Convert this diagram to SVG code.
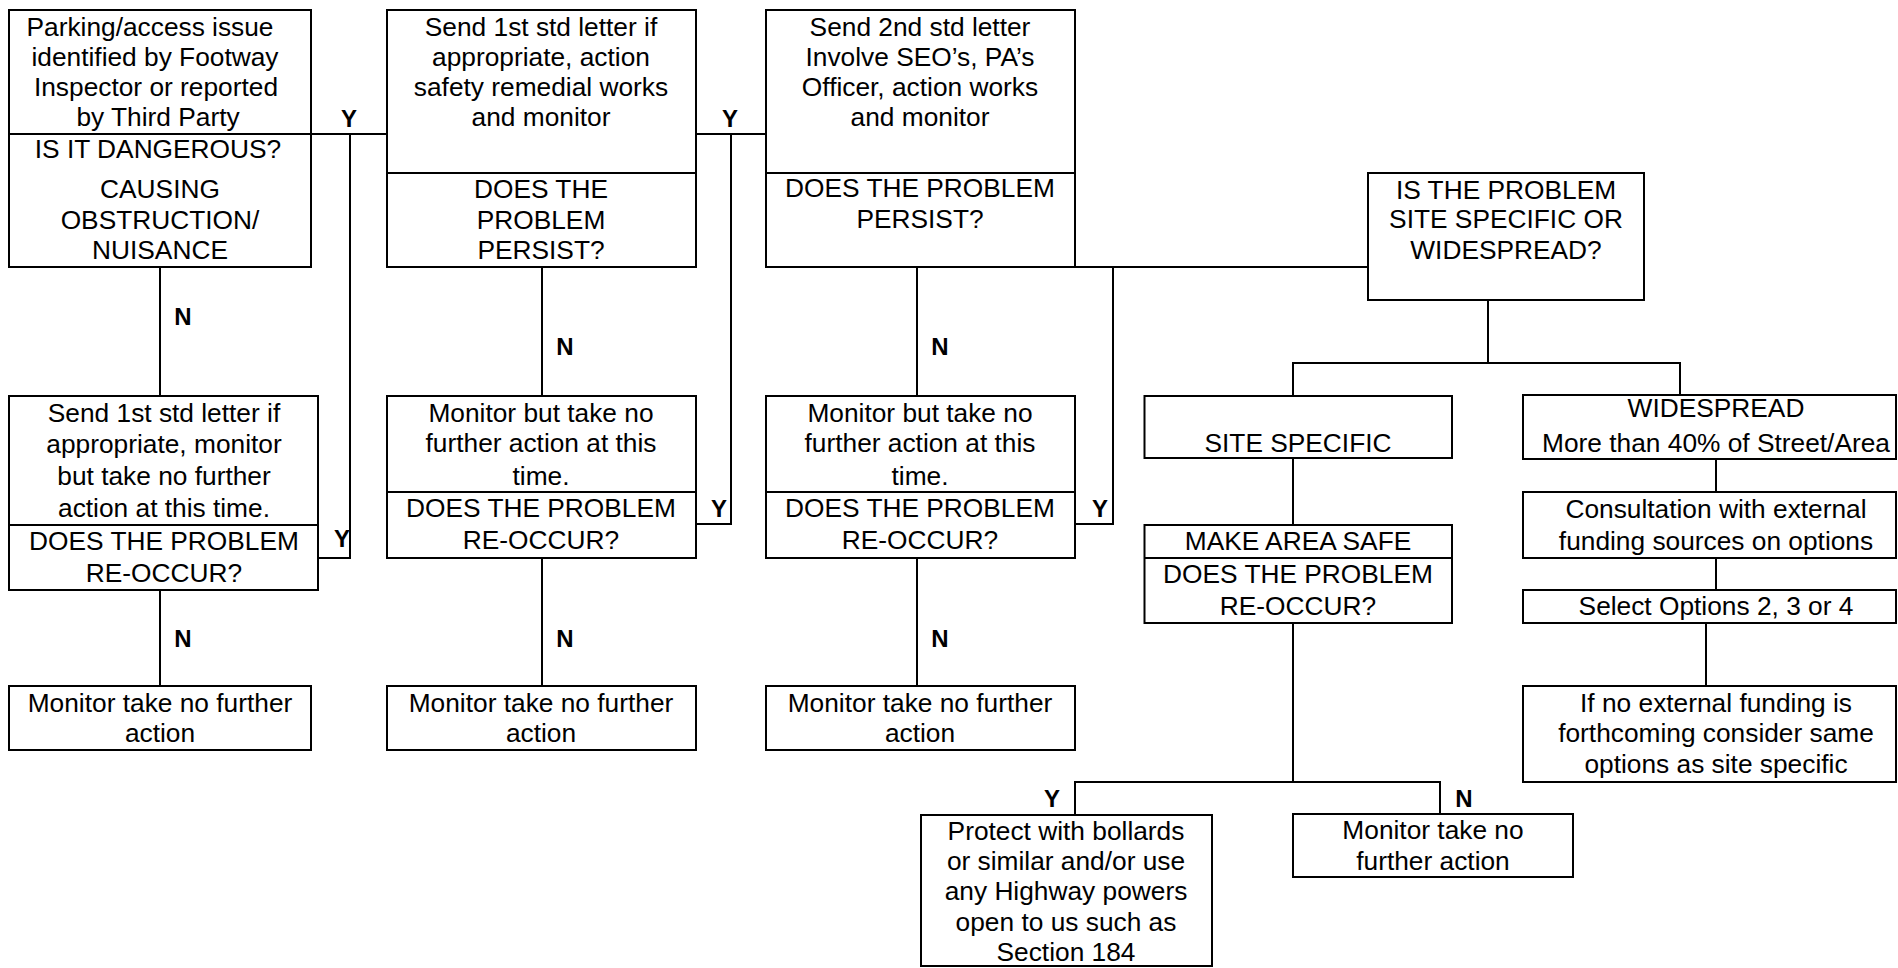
<svg xmlns="http://www.w3.org/2000/svg" width="1898" height="968" viewBox="0 0 1898 968">
  <style>
    .box { fill: #fff; stroke: #000; stroke-width: 2; }
    .div { stroke: #000; stroke-width: 2; }
    .wire { fill: none; stroke: #000; stroke-width: 2; }
    text { font-family: "Liberation Sans", Arial, Helvetica, sans-serif; fill: #000; }
    .t { font-size: 26.3px; text-anchor: middle; }
    .yn { font-size: 24px; font-weight: bold; text-anchor: middle; }
  </style>
  <rect width="1898" height="968" fill="#fff"/>

  <!-- connectors -->
  <g id="connectors" class="wire">
    <!-- column 1 -->
    <path d="M311,134 H387"/>
    <path d="M350,134 V558 H318"/>
    <path d="M160,267 V396"/>
    <path d="M160,590 V686"/>
    <!-- column 2 -->
    <path d="M696,134 H766"/>
    <path d="M731,134 V524 H696"/>
    <path d="M542,267 V396"/>
    <path d="M542,558 V686"/>
    <!-- column 3 -->
    <path d="M1075,267 H1368"/>
    <path d="M1113,267 V524 H1075"/>
    <path d="M917,267 V396"/>
    <path d="M917,558 V686"/>
    <!-- site specific / widespread split -->
    <path d="M1488,300 V363"/>
    <path d="M1293,396 V363 H1680 V395"/>
    <path d="M1293,458 V525"/>
    <path d="M1293,623 V782"/>
    <path d="M1075,815 V782 H1440 V814"/>
    <!-- widespread chain -->
    <path d="M1716,459 V492"/>
    <path d="M1716,558 V590"/>
    <path d="M1706,623 V686"/>
  </g>

  <!-- Y / N labels -->
  <g id="labels">
    <text class="yn" x="349" y="127">Y</text>
    <text class="yn" x="730" y="127">Y</text>
    <text class="yn" x="183" y="325">N</text>
    <text class="yn" x="565" y="355">N</text>
    <text class="yn" x="940" y="355">N</text>
    <text class="yn" x="342" y="547">Y</text>
    <text class="yn" x="719" y="517">Y</text>
    <text class="yn" x="1100" y="517">Y</text>
    <text class="yn" x="183" y="647">N</text>
    <text class="yn" x="565" y="647">N</text>
    <text class="yn" x="940" y="647">N</text>
    <text class="yn" x="1052" y="807">Y</text>
    <text class="yn" x="1464" y="807">N</text>
  </g>

  <g id="issue-identified">
    <rect class="box" x="9" y="10" width="302" height="257"/>
    <line class="div" x1="9" y1="134" x2="311" y2="134"/>
    <text class="t" x="150" y="36">Parking/access issue</text>
    <text class="t" x="155" y="66">identified by Footway</text>
    <text class="t" x="156" y="96">Inspector or reported</text>
    <text class="t" x="158" y="126">by Third Party</text>
    <text class="t" x="158" y="158">IS IT DANGEROUS?</text>
    <text class="t" x="160" y="198">CAUSING</text>
    <text class="t" x="160" y="229">OBSTRUCTION/</text>
    <text class="t" x="160" y="259">NUISANCE</text>
  </g>

  <g id="first-letter-action">
    <rect class="box" x="387" y="10" width="309" height="257"/>
    <line class="div" x1="387" y1="173" x2="696" y2="173"/>
    <text class="t" x="541" y="36">Send 1st std letter if</text>
    <text class="t" x="541" y="66">appropriate, action</text>
    <text class="t" x="541" y="96">safety remedial works</text>
    <text class="t" x="541" y="126">and monitor</text>
    <text class="t" x="541" y="198">DOES THE</text>
    <text class="t" x="541" y="229">PROBLEM</text>
    <text class="t" x="541" y="259">PERSIST?</text>
  </g>

  <g id="second-letter">
    <rect class="box" x="766" y="10" width="309" height="257"/>
    <line class="div" x1="766" y1="173" x2="1075" y2="173"/>
    <text class="t" x="920" y="36">Send 2nd std letter</text>
    <text class="t" x="920" y="66">Involve SEO’s, PA’s</text>
    <text class="t" x="920" y="96">Officer, action works</text>
    <text class="t" x="920" y="126">and monitor</text>
    <text class="t" x="920" y="197">DOES THE PROBLEM</text>
    <text class="t" x="920" y="228">PERSIST?</text>
  </g>

  <g id="site-or-widespread">
    <rect class="box" x="1368" y="173" width="276" height="127"/>
    <text class="t" x="1506" y="199">IS THE PROBLEM</text>
    <text class="t" x="1506" y="228">SITE SPECIFIC OR</text>
    <text class="t" x="1506" y="259">WIDESPREAD?</text>
  </g>

  <g id="first-letter-monitor">
    <rect class="box" x="9" y="396" width="309" height="194"/>
    <line class="div" x1="9" y1="525" x2="318" y2="525"/>
    <text class="t" x="164" y="422">Send 1st std letter if</text>
    <text class="t" x="164" y="453">appropriate, monitor</text>
    <text class="t" x="164" y="485">but take no further</text>
    <text class="t" x="164" y="517">action at this time.</text>
    <text class="t" x="164" y="550">DOES THE PROBLEM</text>
    <text class="t" x="164" y="582">RE-OCCUR?</text>
  </g>

  <g id="monitor-col2">
    <rect class="box" x="387" y="396" width="309" height="162"/>
    <line class="div" x1="387" y1="492" x2="696" y2="492"/>
    <text class="t" x="541" y="422">Monitor but take no</text>
    <text class="t" x="541" y="452">further action at this</text>
    <text class="t" x="541" y="485">time.</text>
    <text class="t" x="541" y="517">DOES THE PROBLEM</text>
    <text class="t" x="541" y="549">RE-OCCUR?</text>
  </g>

  <g id="monitor-col3">
    <rect class="box" x="766" y="396" width="309" height="162"/>
    <line class="div" x1="766" y1="492" x2="1075" y2="492"/>
    <text class="t" x="920" y="422">Monitor but take no</text>
    <text class="t" x="920" y="452">further action at this</text>
    <text class="t" x="920" y="485">time.</text>
    <text class="t" x="920" y="517">DOES THE PROBLEM</text>
    <text class="t" x="920" y="549">RE-OCCUR?</text>
  </g>

  <g id="site-specific">
    <rect class="box" x="1144.5" y="396" width="307.5" height="62"/>
    <text class="t" x="1298" y="452">SITE SPECIFIC</text>
  </g>

  <g id="widespread">
    <rect class="box" x="1523" y="395" width="373" height="64"/>
    <text class="t" x="1716" y="417">WIDESPREAD</text>
    <text class="t" x="1716" y="452">More than 40% of Street/Area</text>
  </g>

  <g id="make-area-safe">
    <rect class="box" x="1144.5" y="525" width="307.5" height="98"/>
    <line class="div" x1="1144.5" y1="558" x2="1452" y2="558"/>
    <text class="t" x="1298" y="550">MAKE AREA SAFE</text>
    <text class="t" x="1298" y="583">DOES THE PROBLEM</text>
    <text class="t" x="1298" y="615">RE-OCCUR?</text>
  </g>

  <g id="consultation">
    <rect class="box" x="1523" y="492" width="373" height="66"/>
    <text class="t" x="1716" y="518">Consultation with external</text>
    <text class="t" x="1716" y="550">funding sources on options</text>
  </g>

  <g id="select-options">
    <rect class="box" x="1523" y="590" width="373" height="33"/>
    <text class="t" x="1716" y="615">Select Options 2, 3 or 4</text>
  </g>

  <g id="end-col1">
    <rect class="box" x="9" y="686" width="302" height="64"/>
    <text class="t" x="160" y="712">Monitor take no further</text>
    <text class="t" x="160" y="742">action</text>
  </g>

  <g id="end-col2">
    <rect class="box" x="387" y="686" width="309" height="64"/>
    <text class="t" x="541" y="712">Monitor take no further</text>
    <text class="t" x="541" y="742">action</text>
  </g>

  <g id="end-col3">
    <rect class="box" x="766" y="686" width="309" height="64"/>
    <text class="t" x="920" y="712">Monitor take no further</text>
    <text class="t" x="920" y="742">action</text>
  </g>

  <g id="no-funding">
    <rect class="box" x="1523" y="686" width="373" height="96"/>
    <text class="t" x="1716" y="712">If no external funding is</text>
    <text class="t" x="1716" y="742">forthcoming consider same</text>
    <text class="t" x="1716" y="773">options as site specific</text>
  </g>

  <g id="protect">
    <rect class="box" x="921" y="815" width="291" height="151"/>
    <text class="t" x="1066" y="840">Protect with bollards</text>
    <text class="t" x="1066" y="870">or similar and/or use</text>
    <text class="t" x="1066" y="900">any Highway powers</text>
    <text class="t" x="1066" y="931">open to us such as</text>
    <text class="t" x="1066" y="961">Section 184</text>
  </g>

  <g id="end-site">
    <rect class="box" x="1293" y="814" width="280" height="63"/>
    <text class="t" x="1433" y="839">Monitor take no</text>
    <text class="t" x="1433" y="870">further action</text>
  </g>
</svg>
